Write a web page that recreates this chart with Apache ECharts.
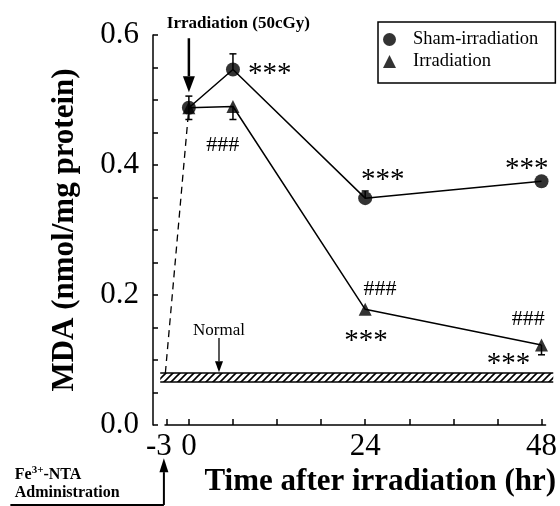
<!DOCTYPE html>
<html><head><meta charset="utf-8">
<script src="https://cdn.jsdelivr.net/npm/echarts@6/dist/echarts.min.js"></script>
<style>html,body{margin:0;padding:0;background:#fff}#c{width:560px;height:506px}</style>
</head><body><div id="c"></div>
<script>
// ---- data ----
const hours = [0, 6, 24, 48];
const shamValues = [0.488, 0.547, 0.349, 0.375];
const shamErrUp = [0.018, 0.024, 0.011, 0];
const shamErrDown = [0.018, 0, 0, 0];
const irrValues = [0.488, 0.490, 0.178, 0.123];
const irrErrUp = [0, 0, 0, 0];
const irrErrDown = [0, 0.020, 0, 0.015];
const normalBand = [0.066, 0.080];
const normalBandX = [-3.9, 49.6];
const adminDashed = [[-3.2, 0.080], [0, 0.488]];
const xTickValues = [-3, 0, 6, 12, 18, 24, 30, 36, 42, 48];
const xLabelValues = [-3, 0, 24, 48];
const yTickValues = [0, 0.05, 0.1, 0.15, 0.2, 0.25, 0.3, 0.35, 0.4, 0.45, 0.5, 0.55, 0.6];
const yLabelValues = [0, 0.2, 0.4, 0.6];
const seriesNames = ['Sham-irradiation', 'Irradiation'];
const annotations = [
  { text: '***', x: 11.0, y: 0.539, size: 29 },
  { text: '###', x: 4.6, y: 0.431, size: 22 },
  { text: '***', x: 26.4, y: 0.376, size: 29 },
  { text: '***', x: 46.0, y: 0.393, size: 29 },
  { text: '###', x: 26.0, y: 0.209, size: 22 },
  { text: '***', x: 24.1, y: 0.129, size: 29 },
  { text: '###', x: 46.2, y: 0.162, size: 22 },
  { text: '***', x: 43.5, y: 0.094, size: 29 }
];

const SERIF = "'Liberation Serif','Times New Roman','DejaVu Serif',serif";
const chart = echarts.init(document.getElementById('c'), null, { renderer: 'canvas' });

// hatch pattern for the normal band
const pat = document.createElement('canvas');
pat.width = 7; pat.height = 7;
const pctx = pat.getContext('2d');
pctx.fillStyle = '#fff'; pctx.fillRect(0, 0, 7, 7);
pctx.strokeStyle = '#000'; pctx.lineWidth = 1.6;
pctx.beginPath();
pctx.moveTo(-1, 8); pctx.lineTo(8, -1);
pctx.moveTo(-4, 4); pctx.lineTo(4, -4);
pctx.moveTo(3, 11); pctx.lineTo(11, 3);
pctx.stroke();

function errorRender(params, api) {
  const x = api.value(0), y = api.value(1), up = api.value(2), dn = api.value(3);
  const top = api.coord([x, y + up]);
  const bot = api.coord([x, y - dn]);
  const cap = 3.5;
  const children = [{ type: 'line', shape: { x1: top[0], y1: top[1], x2: bot[0], y2: bot[1] }, style: { stroke: '#000', lineWidth: 1.5 } }];
  if (up > 0) children.push({ type: 'line', shape: { x1: top[0] - cap, y1: top[1], x2: top[0] + cap, y2: top[1] }, style: { stroke: '#000', lineWidth: 1.5 } });
  if (dn > 0) children.push({ type: 'line', shape: { x1: bot[0] - cap, y1: bot[1], x2: bot[0] + cap, y2: bot[1] }, style: { stroke: '#000', lineWidth: 1.5 } });
  return { type: 'group', children };
}

function bandRender(params, api) {
  const a = api.coord([api.value(0), api.value(3)]);
  const b = api.coord([api.value(1), api.value(2)]);
  return { type: 'group', children: [
    { type: 'rect', shape: { x: a[0], y: a[1], width: b[0] - a[0], height: b[1] - a[1] }, style: { fill: { image: pat, repeat: 'repeat' } } },
    { type: 'line', shape: { x1: a[0], y1: a[1], x2: b[0], y2: a[1] }, style: { stroke: '#000', lineWidth: 1.5 } },
    { type: 'line', shape: { x1: a[0], y1: b[1], x2: b[0], y2: b[1] }, style: { stroke: '#000', lineWidth: 1.5 } }
  ] };
}

const shamData = hours.map((h, i) => [h, shamValues[i]]);
const irrData = hours.map((h, i) => [h, irrValues[i]]);

chart.setOption({
  animation: false,
  backgroundColor: '#fff',
  grid: { left: 165, right: 13, top: 35, bottom: 81 },
  legend: {
    left: 378, top: 22, orient: 'vertical',
    data: [{ name: seriesNames[0], icon: 'circle' }, { name: seriesNames[1], icon: 'triangle' }],
    itemWidth: 13, itemHeight: 13, itemGap: 3,
    padding: [8, 17, 12, 5],
    borderColor: '#000', borderWidth: 1.5,
    textStyle: { fontFamily: SERIF, fontSize: 18.5, color: '#000', padding: [0, 0, 0, 12] },
    selectedMode: false
  },
  xAxis: {
    type: 'value', min: -3.25, max: 48.55,
    axisLine: { onZero: false, lineStyle: { color: '#000', width: 1.5 } },
    axisTick: { inside: true, length: 6, customValues: xTickValues, lineStyle: { color: '#000', width: 1.5 } },
    axisLabel: {
      customValues: xLabelValues, fontFamily: SERIF, fontSize: 31, color: '#000', margin: 6,
      formatter: v => v < 0 ? '{n|' + v + '}' : String(v),
      rich: { n: { fontFamily: SERIF, fontSize: 31, color: '#000', padding: [0, 16, 0, 0] } }
    },
    splitLine: { show: false },
    name: 'Time after irradiation (hr)', nameLocation: 'middle', nameGap: 40,
    nameTextStyle: { fontFamily: SERIF, fontSize: 31, fontWeight: 'bold', color: '#000', padding: [0, 0, 0, 50] }
  },
  yAxis: {
    type: 'value', min: 0, max: 0.6, offset: 12,
    axisLine: { show: true, onZero: false, lineStyle: { color: '#000', width: 1.5 } },
    axisTick: { show: true, inside: true, length: 5, customValues: yTickValues, lineStyle: { color: '#000', width: 1.5 } },
    axisLabel: { customValues: yLabelValues, formatter: v => v.toFixed(1), fontFamily: SERIF, fontSize: 31, color: '#000', margin: 14 },
    splitLine: { show: false },
    name: 'MDA (nmol/mg protein)', nameLocation: 'middle', nameGap: 73, nameRotate: 90,
    nameTextStyle: { fontFamily: SERIF, fontSize: 31, fontWeight: 'bold', color: '#000' }
  },
  series: [
    {
      type: 'custom', name: 'normal', renderItem: bandRender, clip: false, silent: true, z: 1,
      data: [[normalBandX[0], normalBandX[1], normalBand[0], normalBand[1]]]
    },
    {
      type: 'line', name: 'admin', data: adminDashed, symbol: 'none', clip: false,
      lineStyle: { color: '#000', width: 1.3, type: [7, 5] }
    },
    {
      type: 'line', name: 'irrLine', data: irrData, symbol: 'none',
      lineStyle: { color: '#000', width: 1.5 }
    },
    {
      type: 'line', name: 'shamLine', data: shamData, symbol: 'none',
      lineStyle: { color: '#000', width: 1.5 }
    },
    {
      type: 'custom', name: 'irrErr', renderItem: errorRender, z: 3,
      data: hours.map((h, i) => [h, irrValues[i], irrErrUp[i], irrErrDown[i]])
    },
    {
      type: 'custom', name: 'shamErr', renderItem: errorRender, z: 3,
      data: hours.map((h, i) => [h, shamValues[i], shamErrUp[i], shamErrDown[i]])
    },
    {
      type: 'scatter', name: seriesNames[1], data: irrData, symbol: 'triangle', symbolSize: 13, z: 4,
      itemStyle: { color: '#000' }
    },
    {
      type: 'scatter', name: seriesNames[0], data: shamData, symbol: 'circle', symbolSize: 14, z: 5,
      itemStyle: { color: '#000' }
    }
  ]
});

// ---- annotations (positioned in data coordinates) ----
function px(x, y) { return chart.convertToPixel({ gridIndex: 0 }, [x, y]); }
function arrow(from, to, lw, hw, hl) {
  const a = px(from[0], from[1]), b = px(to[0], to[1]);
  const dx = b[0] - a[0], dy = b[1] - a[1], L = Math.hypot(dx, dy);
  const ux = dx / L, uy = dy / L;
  const base = [b[0] - ux * hl, b[1] - uy * hl];
  return [
    { type: 'line', shape: { x1: a[0], y1: a[1], x2: base[0], y2: base[1] }, style: { stroke: '#000', lineWidth: lw } },
    { type: 'polygon', shape: { points: [b, [base[0] - uy * hw / 2, base[1] + ux * hw / 2], [base[0] + uy * hw / 2, base[1] - ux * hw / 2]] }, style: { fill: '#000' } }
  ];
}
const g = [];
annotations.forEach(a => {
  const p = px(a.x, a.y);
  g.push({ type: 'text', x: p[0], y: p[1], style: { text: a.text, font: a.size + 'px ' + SERIF, fill: '#000', align: 'center', verticalAlign: 'middle' } });
});
// irradiation marker
let p = px(-3.0, 0.618);
g.push({ type: 'text', x: p[0], y: p[1], style: { text: 'Irradiation (50cGy)', font: 'bold 17px ' + SERIF, fill: '#000', align: 'left', verticalAlign: 'middle' } });
g.push(...arrow([0, 0.595], [0, 0.512], 2.5, 12, 16));
// normal marker
p = px(4.1, 0.146);
g.push({ type: 'text', x: p[0], y: p[1], style: { text: 'Normal', font: '17px ' + SERIF, fill: '#000', align: 'center', verticalAlign: 'middle' } });
g.push(...arrow([4.1, 0.134], [4.1, 0.081], 1.3, 8, 11));
// Fe3+-NTA administration
p = px(-23.7, -0.077);
g.push({ type: 'text', x: p[0], y: p[1], style: {
  text: '{b|Fe}{s|3+}{b|-NTA}', fill: '#000', align: 'left', verticalAlign: 'middle',
  rich: { b: { font: 'bold 16px ' + SERIF, fill: '#000' }, s: { font: 'bold 11px ' + SERIF, fill: '#000', padding: [0, 0, 9, 0] } }
} });
p = px(-23.7, -0.105);
g.push({ type: 'text', x: p[0], y: p[1], style: { text: 'Administration', font: 'bold 16px ' + SERIF, fill: '#000', align: 'left', verticalAlign: 'middle' } });
const h1 = px(-24.3, -0.123), h2 = px(-3.4, -0.123);
g.push({ type: 'line', shape: { x1: h1[0], y1: h1[1], x2: h2[0], y2: h2[1] }, style: { stroke: '#000', lineWidth: 2 } });
g.push(...arrow([-3.4, -0.123], [-3.4, -0.051], 2, 9, 14));
chart.setOption({ graphic: { elements: g } });
</script>
</body></html>
